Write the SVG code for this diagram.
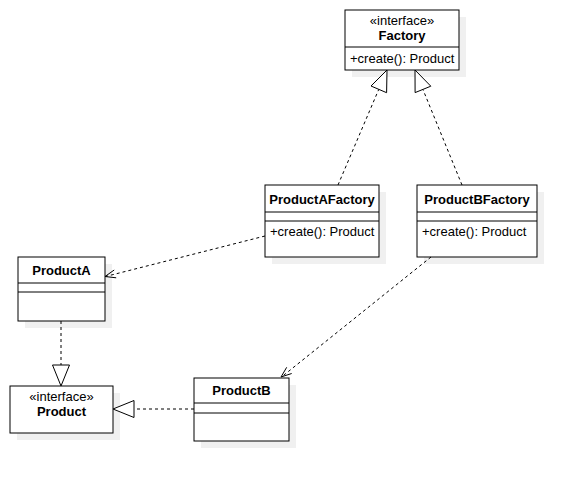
<svg xmlns="http://www.w3.org/2000/svg" width="577" height="481" viewBox="0 0 577 481">
<defs>
<style>
.sh{fill:#f0f0f0;stroke:none}
.box{fill:#fff;stroke:#000;stroke-width:1}
.sep{stroke:#000;stroke-width:1;fill:none}
text{font-family:"Liberation Sans",Arial,sans-serif;font-size:13px;fill:#000}
.t{font-weight:bold;text-anchor:middle}
.st{text-anchor:middle}
.edge{stroke:#000;stroke-width:1;fill:none;stroke-dasharray:3 3}
.tri{fill:#fff;stroke:#000;stroke-width:1}
.open{fill:none;stroke:#000;stroke-width:1}
</style>
</defs>
<rect width="577" height="481" fill="#fff"/>

<g id="Factory">
<rect class="sh" x="352" y="17" width="114" height="60"/>
<rect class="box" x="345" y="10" width="114" height="60"/>
<line class="sep" x1="345" y1="47" x2="459" y2="47"/>
<text class="st" x="402" y="25">«interface»</text>
<text class="t" x="402" y="39.5">Factory</text>
<text x="350" y="63">+create(): Product</text>
</g>

<g id="ProductAFactory">
<rect class="sh" x="272" y="192" width="114" height="72"/>
<rect class="box" x="265" y="185" width="114" height="72"/>
<line class="sep" x1="265" y1="212" x2="379" y2="212"/>
<line class="sep" x1="265" y1="221" x2="379" y2="221"/>
<text class="t" x="322" y="203.5">ProductAFactory</text>
<text x="270" y="236">+create(): Product</text>
</g>

<g id="ProductBFactory">
<rect class="sh" x="424" y="192" width="120" height="72"/>
<rect class="box" x="417" y="185" width="120" height="72"/>
<line class="sep" x1="417" y1="212" x2="537" y2="212"/>
<line class="sep" x1="417" y1="221" x2="537" y2="221"/>
<text class="t" x="477" y="203.5">ProductBFactory</text>
<text x="422" y="236">+create(): Product</text>
</g>

<g id="ProductA">
<rect class="sh" x="25" y="264" width="87" height="64"/>
<rect class="box" x="18" y="257" width="87" height="64"/>
<line class="sep" x1="18" y1="283" x2="105" y2="283"/>
<line class="sep" x1="18" y1="292" x2="105" y2="292"/>
<text class="t" x="61.5" y="275">ProductA</text>
</g>

<g id="Product">
<rect class="sh" x="17" y="393" width="103" height="47"/>
<rect class="box" x="10" y="386" width="103" height="47"/>
<text class="st" x="61.5" y="401">«interface»</text>
<text class="t" x="61.5" y="416">Product</text>
</g>

<g id="ProductB">
<rect class="sh" x="201" y="385" width="95" height="63"/>
<rect class="box" x="194" y="378" width="95" height="63"/>
<line class="sep" x1="194" y1="403" x2="289" y2="403"/>
<line class="sep" x1="194" y1="413" x2="289" y2="413"/>
<text class="t" x="241.5" y="395">ProductB</text>
</g>

<g id="connectors">
<line class="edge" x1="338" y1="185" x2="378.8" y2="89.3"/>
<polygon class="tri" points="387,70 386.6,92.7 371,86"/>
<line class="edge" x1="462" y1="185" x2="422.9" y2="89.4"/>
<polygon class="tri" points="415,70 430.8,86.2 415.1,92.6"/>
<line class="edge" x1="265" y1="236" x2="105.5" y2="276.5"/>
<polyline class="open" points="114.2,270 105,276.5 116.2,277.8"/>
<line class="edge" x1="431" y1="257" x2="281.5" y2="377"/>
<polyline class="open" points="286.7,367.3 281,377 291.7,373.5"/>
<line class="edge" x1="61" y1="321" x2="61" y2="365"/>
<polygon class="tri" points="52.5,365 69.5,365 61,386"/>
<line class="edge" x1="194" y1="409" x2="134" y2="409"/>
<polygon class="tri" points="134,400.5 134,417.5 113,409"/>
</g>
</svg>
